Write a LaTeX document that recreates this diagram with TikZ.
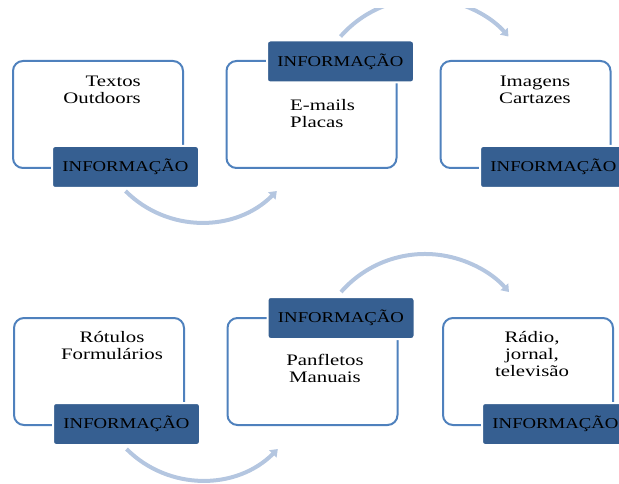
\documentclass[tikz,border=0pt]{standalone}
\usepackage{fontspec}
\setmainfont{Liberation Serif}
\newfontfamily\boxfont[FakeStretch=1.3]{Liberation Serif}
\newfontfamily\lblfont[FakeStretch=1.25]{Liberation Serif}
\usetikzlibrary{arrows.meta}
\definecolor{boxblue}{HTML}{4F81BD}
\definecolor{lblblue}{HTML}{365F91}
\definecolor{arrowblue}{HTML}{B4C6E0}
\begin{document}
\begin{tikzpicture}[x=1pt,y=1pt,
  infobox/.style={draw=boxblue, line width=2pt, rounded corners=10pt,
    minimum width=170pt, minimum height=107pt, inner sep=0pt},
  infolabel/.style={draw=white, line width=2pt, fill=lblblue, rounded corners=3pt,
    minimum width=147pt, minimum height=42pt, inner sep=0pt,
    font=\lblfont\fontsize{15}{15}\selectfont, text=black},
  infotext/.style={inner sep=0pt, font=\boxfont\fontsize{16}{17}\selectfont, text=black},
  flow/.style={draw=arrowblue, line width=4pt, -{Triangle[width=10pt,length=7pt]}}]
\useasboundingbox (0,0) rectangle (619,483);
\begin{scope}
\clip (0,0) rectangle (619,474);
% boxes
\node[infobox] (b1) at (98,368.5) {};
\node[infobox] (b2) at (311.5,368.5) {};
\node[infobox] (b3) at (525.5,368.5) {};
\node[infobox] (b4) at (99,111.5) {};
\node[infobox] (b5) at (312.5,111.5) {};
\node[infobox] (b6) at (528,111.5) {};
% texts
\node[infotext, align=right, anchor=north east] (t1) at (141,407) {Textos\\Outdoors};
\node[infotext, align=left, anchor=north west] (t2) at (290,384) {E-mails\\Placas};
\node[infotext, align=center, anchor=north] (t3) at (535,407) {Imagens\\Cartazes};
\node[infotext, align=center, anchor=north] (t4) at (112,152) {Rótulos\\Formulários};
\node[infotext, align=center, anchor=north] (t5) at (325,129) {Panfletos\\Manuais};
\node[infotext, align=center, anchor=north] (t6) at (532,152) {Rádio,\\jornal,\\televisão};
% labels
\node[infolabel] (l1) at (125.5,316) {INFORMAÇÃO};
\node[infolabel] (l2) at (340.5,421.5) {INFORMAÇÃO};
\node[infolabel] (l3) at (553.5,316) {INFORMAÇÃO};
\node[infolabel] (l4) at (126.5,59) {INFORMAÇÃO};
\node[infolabel] (l5) at (341,165) {INFORMAÇÃO};
\node[infolabel] (l6) at (555.5,59) {INFORMAÇÃO};
% arrows
\draw[flow] ([yshift=-2pt]l1.south) arc[start angle=225, end angle=315, radius=107];
\draw[flow] ([yshift=3pt]l2.north) arc[start angle=138.7, end angle=41.3, radius=111.8];
\draw[flow] ([yshift=-3pt]l4.south) arc[start angle=225, end angle=315, radius=107];
\draw[flow] ([yshift=4pt]l5.north) arc[start angle=138.7, end angle=41.3, radius=111.8];
\end{scope}
\end{tikzpicture}
\end{document}
